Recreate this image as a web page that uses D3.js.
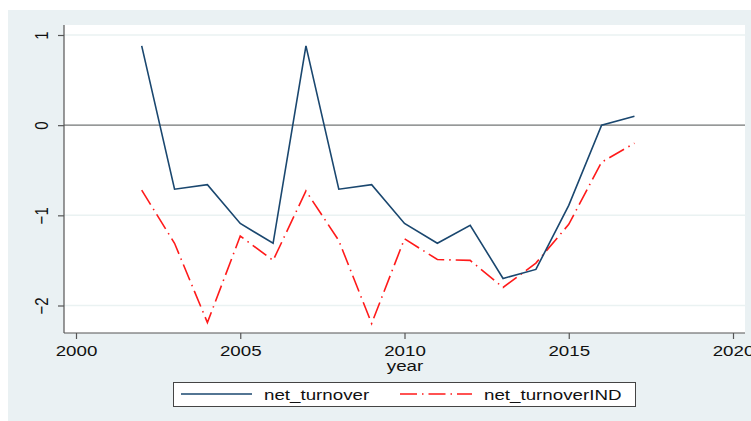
<!DOCTYPE html>
<meta charset="utf-8">
<script src="https://d3js.org/d3.v7.min.js"></script>
<style>
  body { margin: 0; background: #ffffff; }
  text { font-family: "Liberation Sans", Arial, sans-serif; fill: #111; }
</style>
<div id="my_dataviz"></div>
<script>

// data
var years = [2002, 2003, 2004, 2005, 2006, 2007, 2008, 2009, 2010, 2011, 2012, 2013, 2014, 2015, 2016, 2017];
var netTurnover = [0.88, -0.71, -0.66, -1.09, -1.31, 0.88, -0.71, -0.66, -1.09, -1.31, -1.11, -1.70, -1.60, -0.89, 0.0, 0.10];
var netTurnoverIND = [-0.72, -1.31, -2.19, -1.23, -1.50, -0.73, -1.28, -2.20, -1.26, -1.49, -1.50, -1.80, -1.53, -1.10, -0.41, -0.20];
var xTicks = [2000, 2005, 2010, 2015, 2020];
var yTicks = [1, 0, -1, -2];
var seriesNames = ["net_turnover", "net_turnoverIND"];

var W = 751, H = 421;
var fontSize = 15;
var stretch = "scale(1.25,1)"; // the picture is a bit wider than tall

var svg = d3.select("#my_dataviz")
  .append("svg")
    .attr("width", W)
    .attr("height", H);

// graph region background
svg.append("rect")
  .attr("x", 8).attr("y", 10)
  .attr("width", W - 8).attr("height", H - 10)
  .attr("fill", "#eaf1f3");

var plot = {left: 64, right: 745, top: 25, bottom: 333};

svg.append("rect")
  .attr("x", plot.left).attr("y", plot.top)
  .attr("width", plot.right - plot.left).attr("height", plot.bottom - plot.top)
  .attr("fill", "#ffffff");

var x = d3.scaleLinear()
  .domain([2000, 2020])
  .range([76, 733]);

var y = d3.scaleLinear()
  .domain([-2, 1])
  .range([305.5, 35]);

// faint gridlines
svg.append("g")
  .selectAll("line")
  .data(yTicks)
  .enter().append("line")
    .attr("x1", plot.left).attr("x2", plot.right)
    .attr("y1", function(d) { return y(d); })
    .attr("y2", function(d) { return y(d); })
    .attr("stroke", "#eaf2f2")
    .attr("stroke-width", 1.5);

// zero line
svg.append("line")
  .attr("x1", plot.left).attr("x2", plot.right)
  .attr("y1", y(0)).attr("y2", y(0))
  .attr("stroke", "#7a7a7a")
  .attr("stroke-width", 1.3);

// y axis
var yAxis = svg.append("g")
  .attr("transform", "translate(" + plot.left + ",0)")
  .call(d3.axisLeft(y).tickValues(yTicks).tickSize(6).tickFormat(d3.format("d")));
yAxis.select(".domain").attr("d", "M0," + plot.top + "V" + plot.bottom);
yAxis.selectAll("line, path").attr("stroke", "#555").attr("stroke-width", 1.2);
yAxis.selectAll("text")
  .attr("font-size", fontSize)
  .attr("font-family", "Liberation Sans, Arial, sans-serif")
  .attr("fill", "#111")
  .attr("text-anchor", "middle")
  .attr("x", 0).attr("y", 0).attr("dy", 0)
  .attr("transform", "translate(-16,0) " + stretch + " rotate(-90)");

// x axis
var xAxis = svg.append("g")
  .attr("transform", "translate(0," + plot.bottom + ")")
  .call(d3.axisBottom(x).tickValues(xTicks).tickSize(6).tickFormat(d3.format("d")));
xAxis.select(".domain").attr("d", "M" + plot.left + ",0H" + plot.right);
xAxis.selectAll("line, path").attr("stroke", "#555").attr("stroke-width", 1.2);
xAxis.selectAll("text")
  .attr("font-size", fontSize)
  .attr("font-family", "Liberation Sans, Arial, sans-serif")
  .attr("fill", "#111")
  .attr("y", 23).attr("dy", 0)
  .attr("transform", stretch);

svg.append("text")
  .attr("transform", "translate(405,371) " + stretch)
  .attr("text-anchor", "middle")
  .attr("font-size", fontSize)
  .text("year");

// lines
var line = d3.line()
  .x(function(d) { return x(d[0]); })
  .y(function(d) { return y(d[1]); });

svg.append("path")
  .datum(d3.zip(years, netTurnoverIND))
  .attr("d", line)
  .attr("fill", "none")
  .attr("stroke", "#ff1a1a")
  .attr("stroke-width", 1.6)
  .attr("stroke-dasharray", "17,5,1.5,5");

svg.append("path")
  .datum(d3.zip(years, netTurnover))
  .attr("d", line)
  .attr("fill", "none")
  .attr("stroke", "#1a476f")
  .attr("stroke-width", 1.6);

// legend
var legend = svg.append("g");
legend.append("rect")
  .attr("x", 173.5).attr("y", 382.5)
  .attr("width", 462).attr("height", 24)
  .attr("fill", "#ffffff")
  .attr("stroke", "#444")
  .attr("stroke-width", 1);

var legendItems = [
  {name: seriesNames[0], x1: 181, x2: 252, tx: 264, color: "#1a476f", dash: null},
  {name: seriesNames[1], x1: 400, x2: 472, tx: 484, color: "#ff1a1a", dash: "17,5,1.5,5"}
];

legendItems.forEach(function(d) {
  legend.append("line")
    .attr("x1", d.x1).attr("x2", d.x2)
    .attr("y1", 394).attr("y2", 394)
    .attr("stroke", d.color)
    .attr("stroke-width", 1.6)
    .attr("stroke-dasharray", d.dash);
  legend.append("text")
    .attr("transform", "translate(" + d.tx + ",400) " + stretch)
    .attr("font-size", fontSize)
    .text(d.name);
});

</script>
